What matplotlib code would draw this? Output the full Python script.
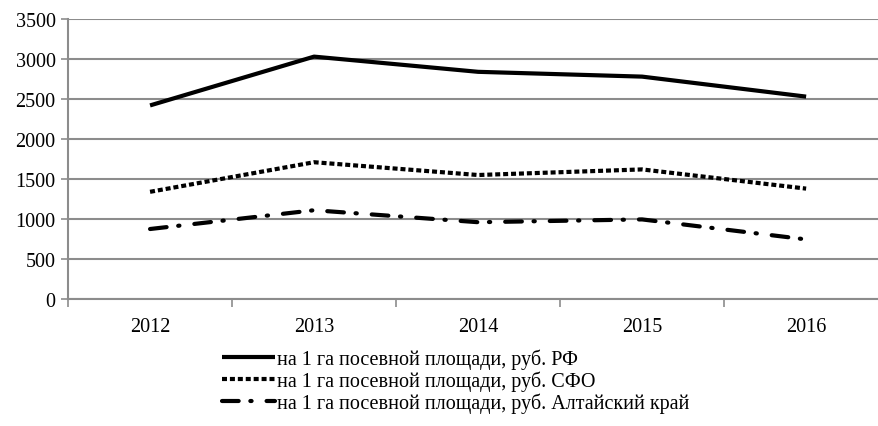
import matplotlib.pyplot as plt
import numpy as np

years = ['2012', '2013', '2014', '2015', '2016']
rf = [2420, 3030, 2840, 2780, 2530]
sfo = [1340, 1710, 1550, 1620, 1380]
altai = [875, 1110, 960, 995, 745]
labels = ['на 1 га посевной площади, руб. РФ',
          'на 1 га посевной площади, руб. СФО',
          'на 1 га посевной площади, руб. Алтайский край']

plt.rcParams['font.family'] = ['Liberation Serif', 'DejaVu Serif']

fig = plt.figure(figsize=(8.79, 4.27), dpi=100)
ax = fig.add_axes([0.0774, 0.2974, 0.933, 0.6557])

x = np.arange(1, len(years) + 1)
ax.plot(x, rf, color='black', lw=3, solid_capstyle='butt', label=labels[0])
ax.plot(x, sfo, color='black', lw=3, linestyle=(0, (1.2, 0.7)),
        dash_capstyle='butt', label=labels[1])
ax.plot(x, altai, color='black', lw=3, linestyle=(0, (4.0, 2.8, 0.3, 3.6)),
        dash_capstyle='round', label=labels[2])

ax.set_xlim(0.5, len(years) + 0.5)
ax.set_ylim(0, 3500)
ax.set_yticks(np.arange(0, 3501, 500))
ax.set_xticks(np.arange(0.5, len(years) + 1, 1))
ax.set_xticklabels([])
ax.set_xticks(x, minor=True)
ax.set_xticklabels(years, minor=True)
ax.tick_params(axis='x', which='major', length=6, width=1.2, color='#8c8c8c')
ax.tick_params(axis='x', which='minor', length=0, pad=13, labelsize=14.5)
ax.tick_params(axis='y', length=5, width=1.2, color='#8c8c8c', labelsize=14.5, pad=4)

ax.grid(axis='y', color='#8c8c8c', lw=1.5)
ax.set_axisbelow(True)
for s in ['top', 'right']:
    ax.spines[s].set_visible(False)
for s in ['left', 'bottom']:
    ax.spines[s].set_color('#8c8c8c')
    ax.spines[s].set_linewidth(1.5)

fig.legend(loc='upper left', bbox_to_anchor=(0.253, 0.182), frameon=False,
           fontsize=14.5, handlelength=2.6, handletextpad=0.12,
           labelspacing=0.08, borderpad=0, borderaxespad=0)

fig.savefig('out.png', dpi=100)
